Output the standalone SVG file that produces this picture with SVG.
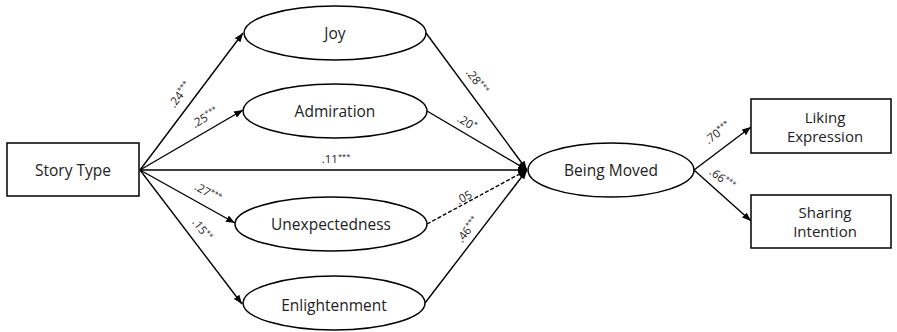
<svg xmlns="http://www.w3.org/2000/svg" width="897" height="332" viewBox="0 0 897 332">
<style>
.n{fill:#fff;stroke:#000;stroke-width:1.5}
.t{font-family:"Open Sans","Noto Sans","Liberation Sans",sans-serif;font-size:15.5px;fill:#222;text-anchor:middle;dominant-baseline:central}
.t2{font-family:"Open Sans","Noto Sans","Liberation Sans",sans-serif;font-size:15px;fill:#222;text-anchor:middle}
.c{stroke:#000;stroke-width:1.4;fill:none;marker-end:url(#ah)}
.d{stroke-dasharray:4,2}
.l{font-family:"Open Sans","Noto Sans","Liberation Sans",sans-serif;font-size:11.5px;fill:#222;text-anchor:middle}
.s{font-size:7.5px}
</style>
<defs>
<marker id="ah" markerUnits="userSpaceOnUse" markerWidth="9" markerHeight="7" refX="9" refY="3.5" orient="auto">
<path d="M0,0 L9,3.5 L0,7 z" fill="#000"/>
</marker>
</defs>
<g id="connectors">
<line class="c" x1="140" y1="170" x2="243" y2="33"/>
<line class="c" x1="140" y1="170" x2="243" y2="110"/>
<line class="c" x1="140" y1="170" x2="527" y2="170"/>
<line class="c" x1="140" y1="170" x2="235" y2="223"/>
<line class="c" x1="140" y1="170" x2="242" y2="304"/>
<line class="c" x1="426" y1="33" x2="527" y2="170"/>
<line class="c" x1="427" y1="111" x2="527" y2="170"/>
<line class="c d" x1="427" y1="224" x2="527" y2="170"/>
<line class="c" x1="425" y1="303" x2="527" y2="170"/>
<line class="c" x1="694" y1="170" x2="751" y2="127"/>
<line class="c" x1="694" y1="170" x2="751" y2="221"/>
<text class="l" transform="translate(183,97) rotate(-53)">.24<tspan class="s" dy="-4">***</tspan></text>
<text class="l" transform="translate(207,121) rotate(-30)">.25<tspan class="s" dy="-4">***</tspan></text>
<text class="l" transform="translate(336,163)">.11<tspan class="s" dy="-4">***</tspan></text>
<text class="l" transform="translate(206,196) rotate(29)">.27<tspan class="s" dy="-4">***</tspan></text>
<text class="l" transform="translate(199,232) rotate(53)">.15<tspan class="s" dy="-4">**</tspan></text>
<text class="l" transform="translate(474,84) rotate(53)">.28<tspan class="s" dy="-4">***</tspan></text>
<text class="l" transform="translate(465,126) rotate(31)">.20<tspan class="s" dy="-4">*</tspan></text>
<text class="l" transform="translate(466,201) rotate(-28)">.05</text>
<text class="l" transform="translate(471,232) rotate(-52)">.46<tspan class="s" dy="-4">***</tspan></text>
<text class="l" transform="translate(720,136) rotate(-37)">.70<tspan class="s" dy="-4">***</tspan></text>
<text class="l" transform="translate(720,182) rotate(37)">.66<tspan class="s" dy="-4">***</tspan></text>
</g>
<g id="story-type"><rect class="n" x="7" y="143" width="132" height="53"/><text class="t" x="73" y="170">Story Type</text></g>
<g id="joy"><ellipse class="n" cx="335" cy="33" rx="91" ry="27"/><text class="t" x="335" y="33">Joy</text></g>
<g id="admiration"><ellipse class="n" cx="335" cy="111" rx="92" ry="27"/><text class="t" x="335" y="111">Admiration</text></g>
<g id="unexpectedness"><ellipse class="n" cx="331" cy="224" rx="96" ry="27"/><text class="t" x="331" y="224">Unexpectedness</text></g>
<g id="enlightenment"><ellipse class="n" cx="334" cy="303" rx="91" ry="27"/><text class="t" x="334" y="305">Enlightenment</text></g>
<g id="being-moved"><ellipse class="n" cx="611" cy="170" rx="83" ry="27"/><text class="t" x="611" y="170">Being Moved</text></g>
<g id="liking-expression"><rect class="n" x="751" y="99" width="140" height="54"/><text class="t2" x="825" y="123">Liking<tspan x="825" dy="19">Expression</tspan></text></g>
<g id="sharing-intention"><rect class="n" x="751" y="195" width="140" height="53"/><text class="t2" x="825" y="218">Sharing<tspan x="825" dy="19">Intention</tspan></text></g>
</svg>
